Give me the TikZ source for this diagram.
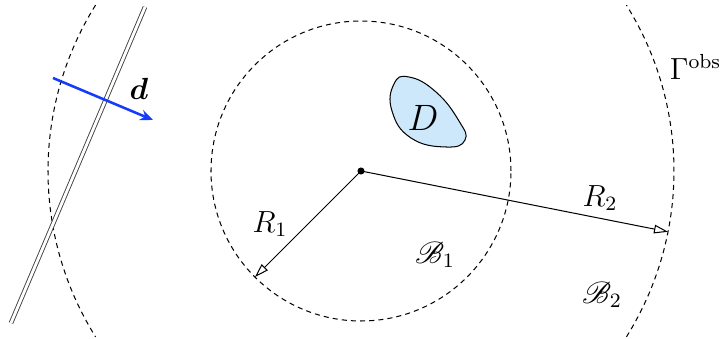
\documentclass[tikz,border=0pt]{standalone}
\usepackage{amsmath,amssymb,mathrsfs}
\usepackage{tikz}
\usetikzlibrary{arrows,arrows.meta}
\definecolor{lightblob}{RGB}{204,232,250}
\definecolor{dirblue}{RGB}{20,60,250}
\tikzset{
	short dash/.style={dash pattern=on 2pt off 1.6pt},
	radius arrow/.style={-{Triangle[open,length=5.5pt,width=3.4pt]}},
	lbl/.style={font=\large, inner sep=0pt}
}

\begin{document}
\begin{tikzpicture}[x=0.69cm,y=0.69cm]
	%\draw[help lines] (-7,-3) grid (7,3);
	\useasboundingbox (-7.22,-3.36) rectangle (7.26,3.42);
	\coordinate (o) at (0,0);
	\coordinate (r1) at (225:3);
	\coordinate (r2) at (-11.2:6.26);
	\coordinate (wa) at (-7.0,-3.04);
	\coordinate (wb) at (-4.32,3.28);
	\coordinate (ds) at (-6.16,1.86);
	\coordinate (de) at (-4.16,1.02);
	% balls
	\draw [short dash] (o) circle [radius=3];
	\draw [short dash] (148:6.26) arc [start angle=148, end angle=212, radius=6.26];
	\draw [short dash] (-32:6.26) arc [start angle=-32, end angle=32, radius=6.26];
	% obstacle
	\draw [fill=lightblob] plot [smooth cycle, tension=0.8] coordinates {(0.66,1.74) (0.96,1.88) (1.50,1.58) (1.96,1.00) (2.08,0.62) (1.70,0.48) (1.00,0.66) (0.62,1.20)};
	\node [font=\Large, inner sep=0pt] (D) at (1.24,1.07) {$D$};
	% incident wave
	\draw [black!75, double=white, double distance=1.1pt, line width=0.35pt] (wa) -- (wb);
	\draw [-{Stealth[length=5pt,width=4.2pt]}, line width=1pt, dirblue] (ds) -- (de);
	\node [lbl] (d) at (-4.44,1.64) {$\boldsymbol{d}$};
	% radii
	\draw [radius arrow] (o) -- (r1);
	\draw [radius arrow] (o) -- (r2);
	\draw [fill] (o) circle [radius=.06];
	\node [lbl] (R1) at (-1.82,-1.06) {$R_1$};
	\node [lbl] (R2) at (4.78,-0.54) {$R_2$};
	\node [lbl] (B1) at (1.48,-1.68) {$\mathscr{B}_1$};
	\node [lbl] (B2) at (4.82,-2.48) {$\mathscr{B}_2$};
	\node [lbl] (G) at (6.69,2.09) {$\Gamma^{\mathrm{obs}}$};
\end{tikzpicture}
\end{document}
